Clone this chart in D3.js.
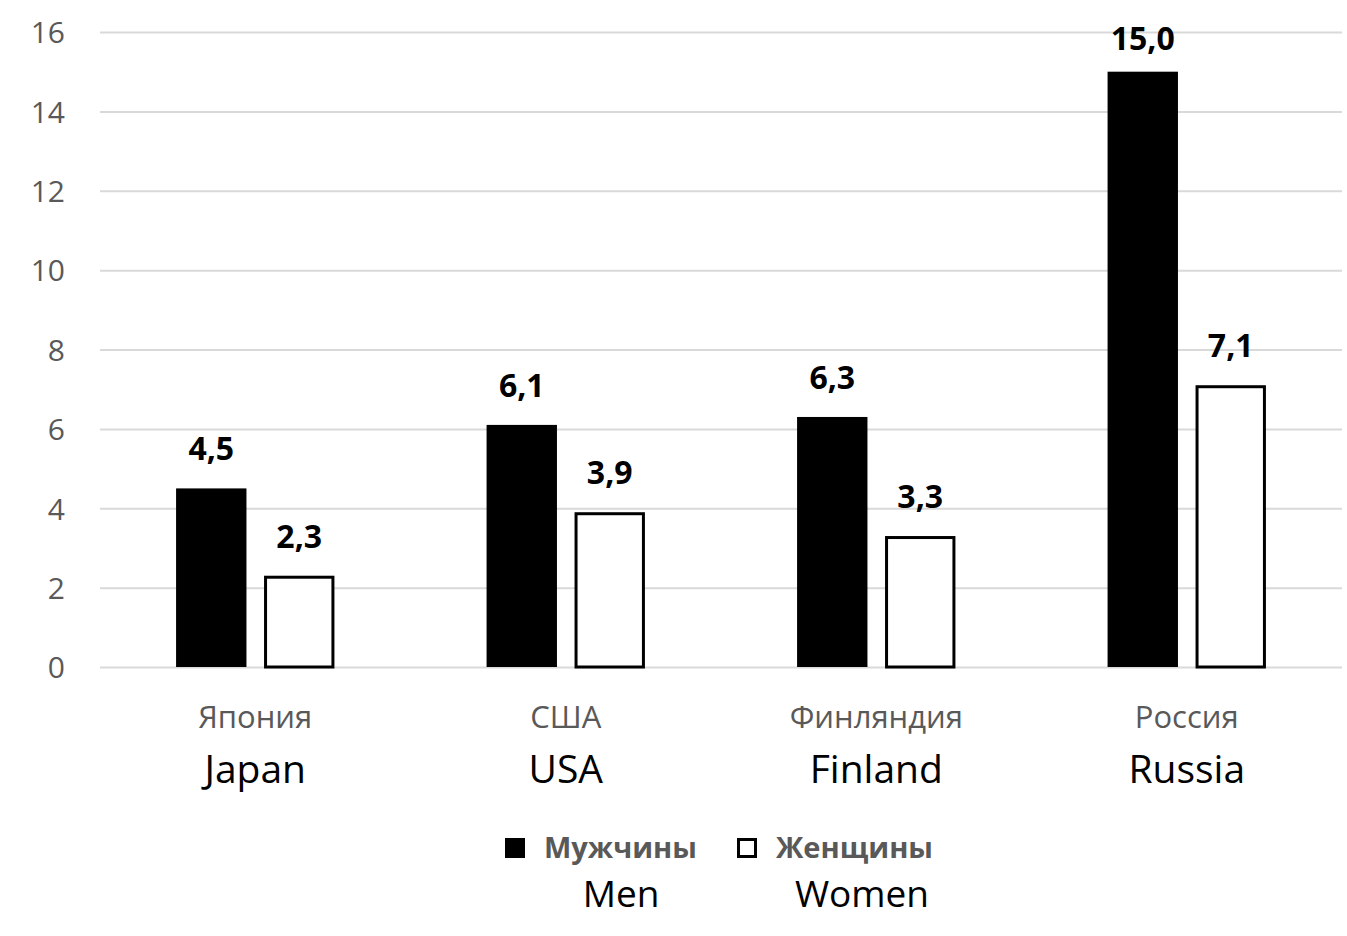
<!DOCTYPE html>
<html><head><meta charset="utf-8">
<script src="https://cdn.jsdelivr.net/npm/d3@7"></script>
<style>body{margin:0;background:#fff}svg{display:block}</style>
</head><body>
<svg id="c" width="1347" height="936"></svg>
<script>
const categoriesRu = ["Япония", "США", "Финляндия", "Россия"];
const categoriesEn = ["Japan", "USA", "Finland", "Russia"];
const men = [4.5, 6.1, 6.3, 15.0];
const women = [2.3, 3.9, 3.3, 7.1];
const seriesRu = ["Мужчины", "Женщины"];
const seriesEn = ["Men", "Women"];
const yTicks = [0, 2, 4, 6, 8, 10, 12, 14, 16];

const font = "'Open Sans', sans-serif";
const svg = d3.select("#c");
const x0 = 100, x1 = 1342, yTop = 32, yBot = 667;
const y = d3.scaleLinear().domain([0, 16]).range([yBot, yTop]);
const xb = d3.scaleBand().domain(d3.range(categoriesRu.length)).range([x0, x1]).paddingInner(0.49).paddingOuter(0.245);
const xs = d3.scaleBand().domain([0, 1]).range([0, xb.bandwidth()]).paddingInner(0.2);

// grid
const yAxis = d3.axisLeft(y).tickValues(yTicks).tickSize(-(x1 - x0)).tickPadding(35).tickFormat(d3.format("d"));
const ga = svg.append("g").attr("transform", `translate(${x0},0)`).call(yAxis);
ga.select(".domain").remove();
ga.selectAll(".tick line").attr("stroke", "#d9d9d9").attr("stroke-width", 2);
ga.selectAll(".tick text").attr("fill", "#595959").style("font-family", font).style("font-size", "30px").attr("dy", "0.36em");

const data = categoriesRu.map((c, i) => ({i, vals: [men[i], women[i]]}));
const g = svg.append("g");
const groups = g.selectAll("g.cat").data(data).enter().append("g").attr("transform", d => `translate(${xb(d.i)},0)`);
groups.selectAll("rect").data(d => d.vals.map((v, s) => ({v, s}))).enter().append("rect")
  .attr("x", d => xs(d.s) + (d.s === 1 ? 1.5 : 0))
  .attr("width", d => xs.bandwidth() - (d.s === 1 ? 3 : 0))
  .attr("y", d => y(d.v) + (d.s === 1 ? 1.5 : 0))
  .attr("height", d => yBot - y(d.v) - (d.s === 1 ? 1.5 : 0))
  .attr("fill", d => d.s === 0 ? "#000" : "#fff")
  .attr("stroke", d => d.s === 0 ? "none" : "#000")
  .attr("stroke-width", 3);
groups.selectAll("text.val").data(d => d.vals.map((v, s) => ({v, s}))).enter().append("text")
  .attr("class", "val")
  .attr("x", d => xs(d.s) + xs.bandwidth() / 2)
  .attr("y", d => Math.max(y(d.v) - 28, 50))
  .attr("text-anchor", "middle")
  .style("font-family", font).style("font-weight", "bold").style("font-size", "32px")
  .text(d => d3.format(".1f")(d.v).replace(".", ","));

// category labels
const cl = svg.append("g");
cl.selectAll("text.ru").data(categoriesRu).enter().append("text")
  .attr("x", (d, i) => xb(i) + xb.bandwidth() / 2).attr("y", 728)
  .attr("text-anchor", "middle").attr("fill", "#595959")
  .style("font-family", font).style("font-size", "31px").text(d => d);
cl.selectAll("text.en").data(categoriesEn).enter().append("text")
  .attr("x", (d, i) => xb(i) + xb.bandwidth() / 2).attr("y", 783)
  .attr("text-anchor", "middle").attr("fill", "#000")
  .style("font-family", font).style("font-size", "39px").text(d => d);

// legend
const lg = svg.append("g");
const lx = [505, 737];
const ltx = [621, 862];
seriesRu.forEach((s, i) => {
  lg.append("rect").attr("x", lx[i] + (i ? 1.5 : 0)).attr("y", 838 + (i ? 1.5 : 0))
    .attr("width", 20 - (i ? 3 : 0)).attr("height", 20 - (i ? 3 : 0))
    .attr("fill", i ? "#fff" : "#000").attr("stroke", i ? "#000" : "none").attr("stroke-width", 3);
  lg.append("text").attr("x", lx[i] + 39).attr("y", 858).attr("fill", "#595959")
    .style("font-family", font).style("font-weight", "bold").style("font-size", "29px").text(s);
  lg.append("text").attr("x", ltx[i]).attr("y", 907).attr("text-anchor", "middle").attr("fill", "#000")
    .style("font-family", font).style("font-size", "37px").text(seriesEn[i]);
});
</script>
</body></html>
